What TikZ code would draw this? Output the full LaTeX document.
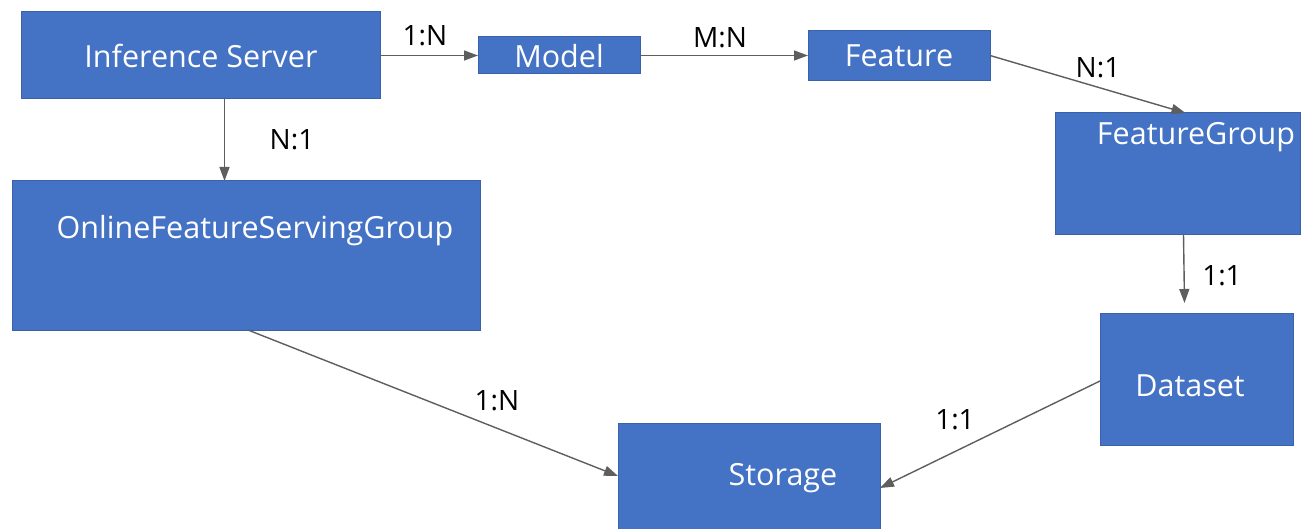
\documentclass[tikz,border=0pt]{standalone}
\usepackage{fontspec}
\setmainfont{Open Sans}
\usetikzlibrary{arrows.meta}
\definecolor{boxblue}{HTML}{4472C4}
\definecolor{boxedge}{HTML}{3A62AA}
\definecolor{arrgray}{HTML}{5E5E5E}
\tikzset{
  box/.style={draw=boxedge, line width=1pt, fill=boxblue, inner sep=0pt, outer sep=0pt},
  boxtext/.style={text=white, font=\fontsize{30.5}{36}\selectfont, inner sep=0pt},
  rel/.style={text=black, font=\fontsize{28}{33}\selectfont, inner sep=0pt},
  arr/.style={draw=arrgray, line width=1.4pt, -{Triangle[length=14pt,width=10pt]}}
}
\begin{document}
\begin{tikzpicture}[x=1pt,y=-1pt]
\useasboundingbox (0,0) rectangle (1305,529);
% boxes
\node[box, minimum width=359pt, minimum height=87pt] (infs) at (200.5,55.5) {};
\node[box, minimum width=162pt, minimum height=37pt] (model) at (559,55.5) {};
\node[box, minimum width=182pt, minimum height=50pt] (feat) at (899,55.5) {};
\node[box, minimum width=245pt, minimum height=122pt] (fg) at (1177.5,174) {};
\node[box, minimum width=468pt, minimum height=149pt] (ofsg) at (246,255.5) {};
\node[box, minimum width=193pt, minimum height=132pt] (ds) at (1196.5,379) {};
\node[box, minimum width=262pt, minimum height=108pt] (st) at (749,477) {};
% texts
\node[boxtext] (tinfs) at (201,56) {Inference Server};
\node[boxtext] (tmodel) at (559,56) {Model};
\node[boxtext] (tfeat) at (899,56) {Feature};
\node[boxtext] (tfg) at (1196,137) {FeatureGroup};
\node[boxtext] (tofsg) at (255,231) {OnlineFeatureServingGroup};
\node[boxtext] (tds) at (1190,386) {Dataset};
\node[boxtext] (tst) at (783,478) {Storage};
% connectors
\draw[arr] (infs.east) -- (model.west);
\draw[arr] (model.east) -- (feat.west);
\draw[arr] (feat.east) -- ([xshift=8pt]fg.north);
\draw[arr] ([xshift=24pt]infs.south) -- ([xshift=24pt]infs.south |- ofsg.north);
\draw[arr] ([xshift=6pt]fg.south) -- ([xshift=-12pt,yshift=10pt]ds.north);
\draw[arr] ([xshift=2pt]ofsg.south) -- ([yshift=1pt]st.west);
\draw[arr] ([yshift=-2pt]ds.west) -- ([yshift=-11pt]st.east);
% labels
\node[rel] (l1) at (425,36) {1:N};
\node[rel] (l2) at (720,38) {M:N};
\node[rel] (l3) at (1098,68) {N:1};
\node[rel] (l4) at (292,140) {N:1};
\node[rel] (l5) at (1222,276) {1:1};
\node[rel] (l6) at (497,401) {1:N};
\node[rel] (l7) at (955,420) {1:1};
\end{tikzpicture}
\end{document}
